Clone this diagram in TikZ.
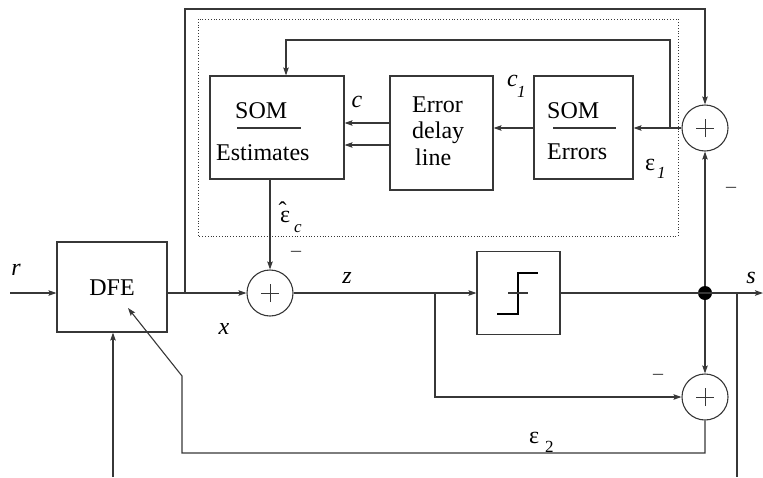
\documentclass[tikz,border=0pt]{standalone}
\usepackage{fontspec}
\setmainfont{Liberation Serif}
\usetikzlibrary{arrows.meta}
\definecolor{linegray}{RGB}{55,55,55}
\newcommand{\bigtext}{\fontsize{24}{28}\selectfont}
\newcommand{\subtext}{\fontsize{17}{20}\selectfont}
\begin{document}
\begin{tikzpicture}[x=1pt,y=-1pt,
  wire/.style={line width=1.1pt, draw=linegray},
  sig/.style={wire, -{Stealth[length=8pt,width=5.5pt,inset=1.5pt]}},
  block/.style={rectangle, draw=linegray, line width=1.1pt, inner sep=0pt},
  adder/.style={circle, draw=linegray, line width=1.1pt, inner sep=0pt, minimum size=46pt,
    path picture={
      \draw[linegray, line width=0.8pt]
        ([xshift=-9pt]path picture bounding box.center) -- ([xshift=9pt]path picture bounding box.center)
        ([yshift=-9pt]path picture bounding box.center) -- ([yshift=9pt]path picture bounding box.center);
    }},
  txt/.style={inner sep=0pt, anchor=base west, font=\bigtext},
  lbl/.style={inner sep=0pt, font=\bigtext\itshape},
  sublbl/.style={inner sep=0pt, anchor=base west, font=\subtext\itshape},
  minus/.style={inner sep=0pt, font=\fontsize{20}{20}\selectfont, text=linegray}
]
\useasboundingbox (0,0) rectangle (763,477);

% dotted frame around the SOM correction part
\draw[linegray, dotted, line width=0.8pt] (198,19) rectangle (678,236);

% blocks
\node[block, minimum width=110pt, minimum height=90pt] (dfe) at (112,287) {};
\node[inner sep=0pt, font=\bigtext] (dfetext) at (112,287.5) {DFE};
\node[block, minimum width=83pt, minimum height=83pt] (dec) at (518.5,293) {};
\node[block, minimum width=134pt, minimum height=103pt] (est) at (277,127.5) {};
\node[block, minimum width=103pt, minimum height=114pt] (dly) at (441.5,133) {};
\node[block, minimum width=99pt, minimum height=103pt] (err) at (583.5,127.5) {};

% block texts
\node[txt] (estsom) at (235,118) {SOM};
\draw[wire] (237,128) -- (301,128);
\node[txt] (estname) at (216,160) {Estimates};
\node[txt] (errsom) at (547,118) {SOM};
\draw[wire] (553,128) -- (616,128);
\node[txt] (errname) at (547,159) {Errors};
\node[txt] (dly1) at (412,112) {Error};
\node[txt] (dly2) at (412,138) {delay};
\node[txt] (dly3) at (415,165) {line};

% decision (slicer) symbol
\draw[black, line width=1.1pt] (497,314) -- (518,314) -- (518,273) -- (538,273);
\draw[wire] (508,293) -- (528,293);

% adders and branch point
\node[adder] (add1) at (270,293) {};
\node[adder] (add2) at (705,397) {};
\node[adder] (add3) at (705,128) {};
\node[circle, fill=black, inner sep=0pt, minimum size=14pt] (dot) at (705,293) {};

% auxiliary coordinates
\coordinate (rin) at (10,293);
\coordinate (tapx) at (185,293);
\coordinate (topL) at (185,9);
\coordinate (topR) at (705,9);
\coordinate (tapz) at (435,293);
\coordinate (sout) at (763,293);
\coordinate (fbout) at (737,293);
\coordinate (fbend) at (737,477);
\coordinate (tape) at (670,128);
\coordinate (loopR) at (670,40);
\coordinate (loopL) at (286,40);
\coordinate (e2a) at (705,453);
\coordinate (e2b) at (182,453);
\coordinate (e2c) at (182,376);
\coordinate (e2d) at (128,308);
\coordinate (binp) at (113,477);

% main path
\draw[sig] (rin) -- (dfe.west |- rin);
\draw[sig] (dfe.east |- add1) -- (add1.west);
\draw[sig] (tapx) -- (topL) -- (topR) -- (add3.north);
\draw[sig] (est.south -| add1) -- (add1.north);
\draw[sig] (add1.east) -- (dec.west |- add1);
\draw[sig] (tapz) -- (tapz |- add2) -- (add2.west);
\draw[sig] (dec.east) -- (sout);
\draw[wire] (fbout) -- (fbend);
\draw[sig] (dot) -- (add2.north);
\draw[sig] (dot) -- (add3.south);

% SOM loop
\draw[sig] (add3.west) -- (err.east |- add3);
\draw[sig] (tape) -- (loopR) -- (loopL) -- (loopL |- est.north);
\draw[sig] (err.west |- add3) -- (dly.east |- add3);
\draw[sig] (dly.west |- 0,123) -- (est.east |- 0,123);
\draw[sig] (dly.west |- 0,145) -- (est.east |- 0,145);

% adaptation feedback to the DFE
\draw[sig] (add2.south) -- (e2a) -- (e2b) -- (e2c) -- (e2d);
\draw[sig] (binp) -- (binp |- dfe.south);

% signal labels
\node[lbl] (lr) at (16,270) {r};
\node[lbl] (lx) at (224,329) {x};
\node[lbl] (lz) at (347,278) {z};
\node[lbl] (ls) at (751,278) {s};
\node[lbl] (lc) at (357,102) {c};
\node[lbl, anchor=base west] (lc1) at (507,86) {c};
\node[sublbl] (lc1s) at (517,97) {1};
\node[inner sep=0pt, anchor=base west, font=\bigtext] (le1) at (645,170) {ε};
\node[sublbl] (le1s) at (657,178) {1};
\node[inner sep=0pt, anchor=base west, font=\bigtext] (le2) at (529,443) {ε};
\node[inner sep=0pt, anchor=base west, font=\subtext] (le2s) at (545,452) {2};
\node[inner sep=0pt, anchor=base west, font=\bigtext] (lec) at (280,222)
  {\makebox[0pt][l]{\hspace{-1.5pt}\raisebox{4pt}{ˆ}}ε};
\node[sublbl] (lecs) at (294,232) {c};

% sign marks
\node[minus] (m1) at (296,254) {–};
\node[minus] (m2) at (658,377) {–};
\node[minus] (m3) at (731,190) {–};
\end{tikzpicture}
\end{document}
